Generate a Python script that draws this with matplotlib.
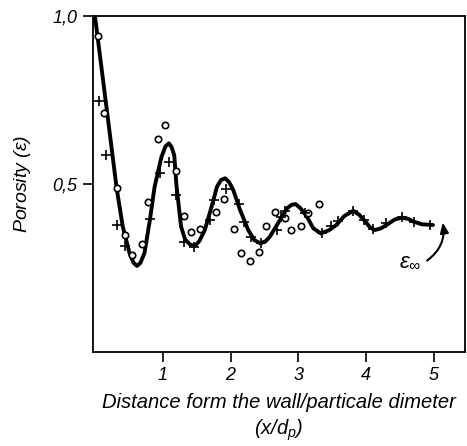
import numpy as np
import matplotlib
matplotlib.use('Agg')
import matplotlib.pyplot as plt

# values
curve_x = [0.00, 0.10, 0.20, 0.32, 0.41, 0.51, 0.57, 0.62, 0.67, 0.73, 0.81, 0.88, 0.98,
           1.04, 1.09, 1.13, 1.17, 1.20, 1.27, 1.33, 1.40, 1.47, 1.54, 1.62, 1.72, 1.80,
           1.86, 1.92, 1.98, 2.04, 2.14, 2.26, 2.35, 2.44, 2.52, 2.58, 2.73, 2.83, 2.90,
           2.96, 3.03, 3.12, 3.22, 3.33, 3.45, 3.56, 3.68, 3.81, 3.90, 3.98, 4.06, 4.13,
           4.22, 4.30, 4.42, 4.53, 4.62, 4.70, 4.82, 4.97]
curve_y = [1.000, 0.840, 0.680, 0.487, 0.373, 0.294, 0.265, 0.256, 0.265, 0.294, 0.393,
           0.492, 0.580, 0.612, 0.621, 0.610, 0.585, 0.500, 0.373, 0.335, 0.320, 0.315,
           0.330, 0.363, 0.432, 0.492, 0.512, 0.517, 0.505, 0.482, 0.423, 0.363, 0.333,
           0.323, 0.330, 0.343, 0.393, 0.427, 0.438, 0.440, 0.428, 0.405, 0.368, 0.353,
           0.362, 0.378, 0.405, 0.420, 0.408, 0.390, 0.370, 0.363, 0.368, 0.378, 0.394,
           0.400, 0.396, 0.388, 0.380, 0.378]

circle_x = [0.04, 0.14, 0.32, 0.45, 0.54, 0.70, 0.78, 0.93, 1.04, 1.20, 1.31, 1.42, 1.55,
            1.78, 1.91, 2.05, 2.16, 2.29, 2.42, 2.53, 2.66, 2.80, 2.89, 3.04, 3.14, 3.31]
circle_y = [0.940, 0.710, 0.487, 0.348, 0.290, 0.320, 0.447, 0.633, 0.675, 0.540, 0.405,
            0.357, 0.365, 0.416, 0.455, 0.365, 0.294, 0.271, 0.296, 0.375, 0.417, 0.398,
            0.363, 0.375, 0.413, 0.440]

plus_x = [0.06, 0.17, 0.33, 0.45, 0.81, 0.96, 1.09, 1.20, 1.31, 1.46, 1.69, 1.75, 1.94,
          2.13, 2.20, 2.30, 2.45, 2.69, 2.74, 2.80, 3.10, 3.35, 3.48, 3.59, 3.81, 3.97,
          4.10, 4.30, 4.53, 4.70, 4.94]
plus_y = [0.746, 0.587, 0.378, 0.315, 0.395, 0.534, 0.566, 0.467, 0.326, 0.311, 0.393,
          0.452, 0.484, 0.440, 0.388, 0.341, 0.323, 0.363, 0.403, 0.420, 0.413, 0.355,
          0.376, 0.390, 0.419, 0.393, 0.367, 0.383, 0.401, 0.388, 0.378]

x_ticks = [1, 2, 3, 4, 5]
y_ticks = [0.5, 1.0]
y_tick_labels = ['0,5', '1,0']

plt.rcParams['font.family'] = ['Liberation Sans', 'DejaVu Sans']
plt.rcParams['font.style'] = 'italic'
plt.rcParams['mathtext.fontset'] = 'custom'
plt.rcParams['mathtext.rm'] = 'Liberation Sans:italic'
plt.rcParams['mathtext.it'] = 'Liberation Sans:italic'

fig = plt.figure(figsize=(4.67, 4.46), dpi=100)
ax = fig.add_axes([0.199, 0.211, 0.797, 0.753])

ax.plot(curve_x, curve_y, color='black', lw=2.8, solid_joinstyle='round', zorder=3)
ax.plot(circle_x, circle_y, 'o', ms=4.6, mfc='white', mec='black', mew=1.2, zorder=4)
ax.plot(plus_x, plus_y, '+', ms=7.5, color='black', mew=1.2, zorder=4)

ax.set_xlim(-0.03, 5.46)
ax.set_ylim(0, 1.0)
ax.set_xticks(x_ticks)
ax.set_xticklabels([str(t) for t in x_ticks])
ax.set_yticks(y_ticks)
ax.set_yticklabels(y_tick_labels)
ax.tick_params(direction='out', length=7, width=1.2, labelsize=13, pad=4)
for s in ax.spines.values():
    s.set_linewidth(1.3)

ax.set_xlabel('Distance form the wall/particale dimeter\n$(x/d_p)$', fontsize=14.5,
              labelpad=6, linespacing=1.35)
ax.set_ylabel('Porosity ($\\varepsilon$)', fontsize=14, labelpad=14)

ax.annotate('', xy=(5.13, 0.385), xytext=(4.90, 0.272),
            arrowprops=dict(arrowstyle='-|>,head_length=0.6,head_width=0.25', color='black',
                            lw=1.5, connectionstyle='arc3,rad=0.3', shrinkA=0, shrinkB=0))
ax.text(4.65, 0.27, '$\\varepsilon_{\\infty}$', fontsize=16, ha='center', va='center')

fig.savefig('out.png', dpi=100)
